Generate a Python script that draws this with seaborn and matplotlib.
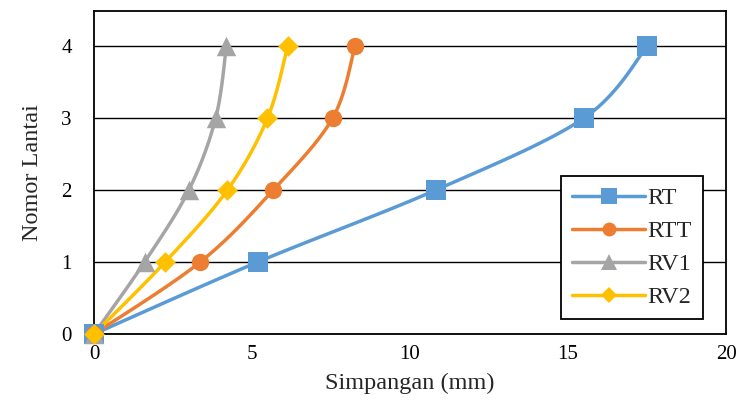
"""Story drift profile: floor number vs displacement for four models."""

import numpy as np
import pandas as pd
import matplotlib
matplotlib.use("Agg")
import matplotlib.pyplot as plt
from matplotlib.lines import Line2D
import seaborn as sns

# data
floors = [0, 1, 2, 3, 4]
rt = [0.0, 5.18, 10.81, 15.50, 17.51]
rtt = [0.0, 3.36, 5.67, 7.55, 8.26]
rv1 = [0.0, 1.60, 3.00, 3.85, 4.19]
rv2 = [0.0, 2.25, 4.22, 5.49, 6.13]

series_names = ["RT", "RTT", "RV1", "RV2"]
series_values = [rt, rtt, rv1, rv2]
colors = ["#5B9BD5", "#ED7D31", "#A5A5A5", "#FFC000"]
markers = ["s", "o", "^", "D"]
marker_sizes = [14.5, 12.5, 14, 10.5]


def smooth_curve(xs, ys, n=30):
    """Catmull-Rom style smoothing like Excel's smoothed line."""
    pts = np.column_stack([xs, ys]).astype(float)
    p = np.vstack([pts[0], pts, pts[-1]])
    out = []
    t = np.linspace(0, 1, n)
    for i in range(1, len(p) - 2):
        p0, p1, p2, p3 = p[i - 1], p[i], p[i + 1], p[i + 2]
        c1 = p1 + (p2 - p0) / 6
        c2 = p2 - (p3 - p1) / 6
        seg = ((1 - t) ** 3)[:, None] * p1 + (3 * (1 - t) ** 2 * t)[:, None] * c1 \
            + (3 * (1 - t) * t ** 2)[:, None] * c2 + (t ** 3)[:, None] * p2
        out.append(seg if i == 1 else seg[1:])
    out = np.vstack(out)
    return out[:, 0], out[:, 1]


sns.set_style("white")
plt.rcParams["font.family"] = ["Liberation Serif", "DejaVu Serif"]

fig = plt.figure(figsize=(7.40, 4.03), dpi=100)
ax = fig.add_axes([94 / 740, 1 - 334 / 403, (726 - 94) / 740, (334 - 11) / 403])

for name, vals, col, mk, ms in zip(series_names, series_values, colors, markers, marker_sizes):
    sx, sy = smooth_curve(vals, floors)
    ax.plot(sx, sy, color=col, lw=2.5, zorder=3, solid_capstyle="round", clip_on=False)
    df = pd.DataFrame({"x": vals, "y": floors})
    sns.scatterplot(data=df, x="x", y="y", marker=mk, s=ms ** 2, color=col,
                    edgecolor=col, linewidth=0, ax=ax, zorder=4, legend=False,
                    clip_on=False)

ax.set_xlim(0, 20)
ax.set_ylim(0, 4.49)
ax.set_xticks([0, 5, 10, 15, 20])
ax.set_yticks([0, 1, 2, 3, 4])
ax.yaxis.grid(True, color="black", lw=1.0)
ax.set_axisbelow(True)
for sp in ax.spines.values():
    sp.set_visible(True)
    sp.set_color("black")
    sp.set_linewidth(1.3)
ax.tick_params(axis="both", length=0, labelsize=15, colors="black")
ax.tick_params(axis="x", pad=8)
ax.tick_params(axis="y", pad=16)
ax.set_xlabel("Simpangan (mm)", fontsize=17.5, labelpad=6)
ax.set_ylabel("Nomor Lantai", fontsize=17.5, labelpad=13)

handles = [Line2D([0], [0], color=c, lw=2.5, marker=m, markersize=ms * 0.8,
                  markeredgewidth=0)
           for c, m, ms in zip(colors, markers, marker_sizes)]
leg = ax.legend(handles, series_names, loc="lower right",
                bbox_to_anchor=((703 - 94) / (726 - 94), (334 - 319) / (334 - 11)),
                fontsize=17.5, frameon=True, fancybox=False, framealpha=1,
                edgecolor="black", handlelength=3.0, labelspacing=0.45,
                borderpad=0.45, handletextpad=0.1, borderaxespad=0)
leg.get_frame().set_linewidth(1.3)

fig.savefig("out.png", dpi=100)
